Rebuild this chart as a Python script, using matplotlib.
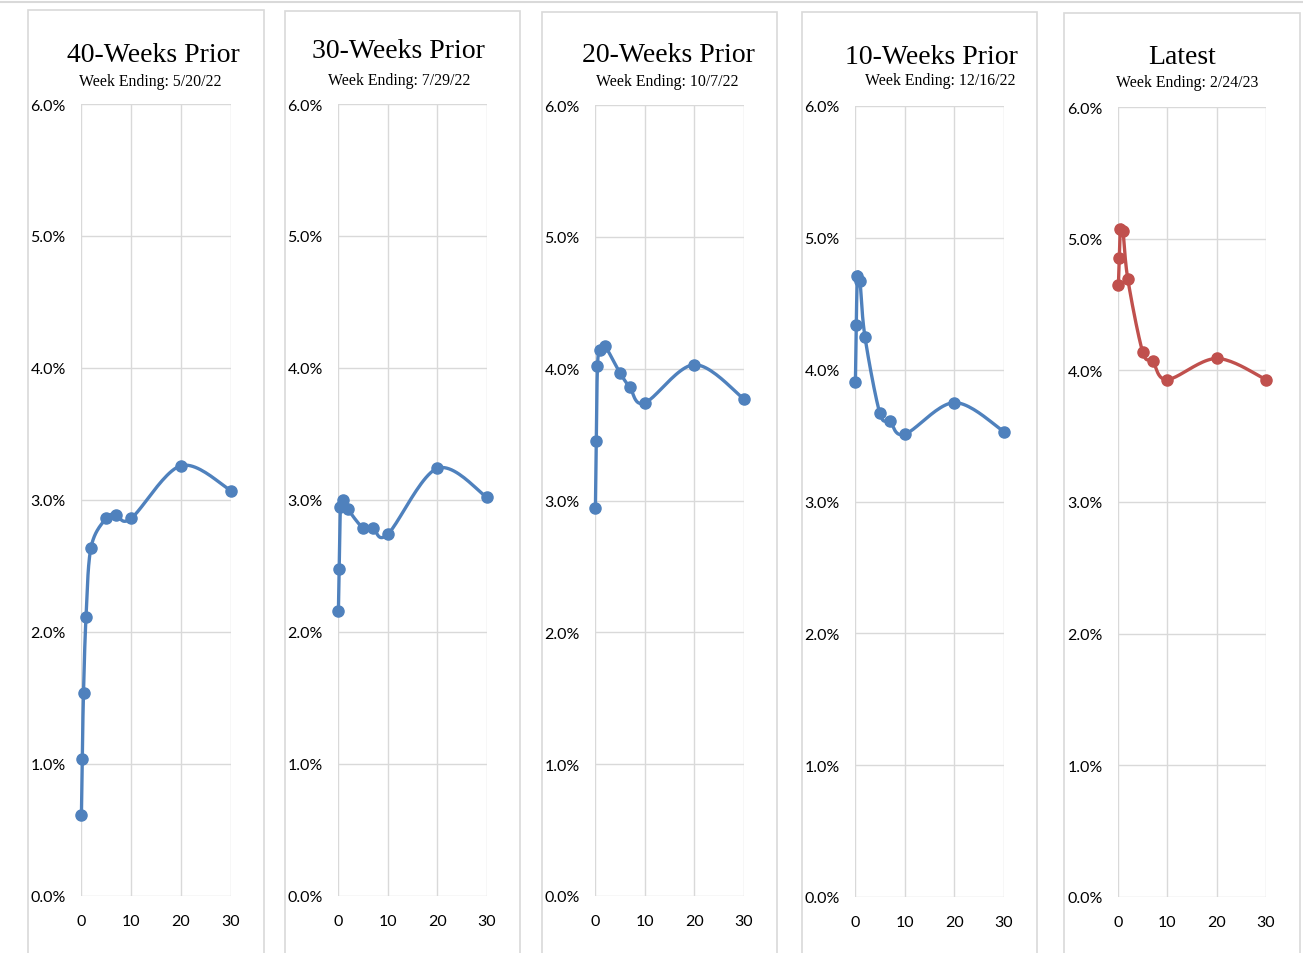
import matplotlib
matplotlib.use("Agg")
import matplotlib.pyplot as plt
from matplotlib.patches import Rectangle
from matplotlib.lines import Line2D
import numpy as np

# Plazos de la curva (anios): 1M, 3M, 6M, 1Y, 2Y, 5Y, 7Y, 10Y, 20Y, 30Y
plazos = [1/12, 0.25, 0.5, 1, 2, 5, 7, 10, 20, 30]

titulos = ["40-Weeks Prior", "30-Weeks Prior", "20-Weeks Prior", "10-Weeks Prior", "Latest"]
fechas = ["5/20/22", "7/29/22", "10/7/22", "12/16/22", "2/24/23"]

tasas_40 = [0.61, 1.04, 1.54, 2.11, 2.64, 2.86, 2.89, 2.86, 3.26, 3.07]
tasas_30 = [2.16, 2.48, 2.95, 3.00, 2.93, 2.79, 2.79, 2.74, 3.24, 3.02]
tasas_20 = [2.94, 3.45, 4.02, 4.14, 4.17, 3.97, 3.86, 3.74, 4.03, 3.77]
tasas_10 = [3.91, 4.34, 4.71, 4.67, 4.25, 3.67, 3.61, 3.51, 3.75, 3.53]
tasas_ult = [4.65, 4.85, 5.07, 5.06, 4.69, 4.14, 4.07, 3.93, 4.09, 3.93]

series = [tasas_40, tasas_30, tasas_20, tasas_10, tasas_ult]
colores = ["#4F81BD", "#4F81BD", "#4F81BD", "#4F81BD", "#C0504D"]

W, H = 1303, 954

# Ubicacion de cada panel en pixeles: caja y area de grafica
cajas = [(28, 11, 264), (285, 12, 520), (542, 13, 777), (802, 13, 1037), (1064, 14, 1300)]
areas = [(81, 231, 105, 897), (338, 487, 105, 897), (595, 744, 106, 897),
         (855, 1004, 107, 898), (1118, 1266, 108, 898)]
pos_titulo = [(153, 55, 150, 82), (398, 52, 399, 81), (668, 56, 667, 82),
              (931, 57, 940, 81), (1182, 58, 1187, 83)]


def suavizar(x, y, sx, sy, n=24):
    # spline tipo Excel (Catmull-Rom) en espacio de pantalla
    px = np.array(x) * sx
    py = np.array(y) * sy
    P = np.column_stack([px, py])
    out = [P[0]]
    for i in range(len(P) - 1):
        p0 = P[i - 1] if i > 0 else P[i]
        p1 = P[i]
        p2 = P[i + 1]
        p3 = P[i + 2] if i + 2 < len(P) else P[i + 1]
        c1 = p1 + (p2 - p0) / 6
        c2 = p2 - (p3 - p1) / 6
        t = np.linspace(0, 1, n)[1:, None]
        b = ((1 - t) ** 3) * p1 + 3 * ((1 - t) ** 2) * t * c1 + 3 * (1 - t) * t ** 2 * c2 + t ** 3 * p2
        out.extend(b)
    out = np.array(out)
    return out[:, 0] / sx, out[:, 1] / sy


fig = plt.figure(figsize=(W / 100, H / 100), dpi=100)

# linea superior gris
fig.add_artist(Line2D([0, 1], [1 - 3 / H, 1 - 3 / H], color="#D9D9D9", lw=1.5))

for k in range(5):
    bx0, by0, bx1 = cajas[k]
    fig.patches.append(Rectangle((bx0 / W, 0 - 0.01), (bx1 - bx0) / W, 1 - by0 / H + 0.01,
                                 transform=fig.transFigure, fill=False,
                                 edgecolor="#D9D9D9", lw=1.2))
    x0, x1, yt, yb = areas[k]
    ax = fig.add_axes([x0 / W, 1 - yb / H, (x1 - x0) / W, (yb - yt) / H])
    ax.set_xlim(0, 30)
    ax.set_ylim(0, 6)
    ax.set_xticks([0, 10, 20, 30])
    ax.set_yticks([0, 1, 2, 3, 4, 5, 6])
    ax.set_yticklabels(["%.1f%%" % v for v in range(7)])
    ax.grid(True, color="#D9D9D9", lw=1)
    ax.set_axisbelow(True)
    for s in ax.spines.values():
        s.set_visible(False)
    ax.tick_params(axis="y", length=0, labelsize=11.5, pad=11)
    ax.tick_params(axis="x", length=0, labelsize=11.5, pad=13)
    for lab in ax.get_xticklabels() + ax.get_yticklabels():
        lab.set_fontfamily("Lato")

    sx = (x1 - x0) / 30
    sy = (yb - yt) / 6
    xs, ys = suavizar(plazos, series[k], sx, sy)
    ax.plot(xs, ys, color=colores[k], lw=2.4, solid_capstyle="round", clip_on=False)
    ax.plot(plazos, series[k], "o", color=colores[k], ms=8, clip_on=False)

    tx, ty, sx_, sy_ = pos_titulo[k]
    fig.text(tx / W, 1 - ty / H, titulos[k], ha="center", va="center",
             fontsize=20, family="Liberation Serif")
    fig.text(sx_ / W, 1 - sy_ / H, "Week Ending: " + fechas[k], ha="center", va="center",
             fontsize=11.4, family="Liberation Serif")

fig.savefig("out.png", dpi=100)
